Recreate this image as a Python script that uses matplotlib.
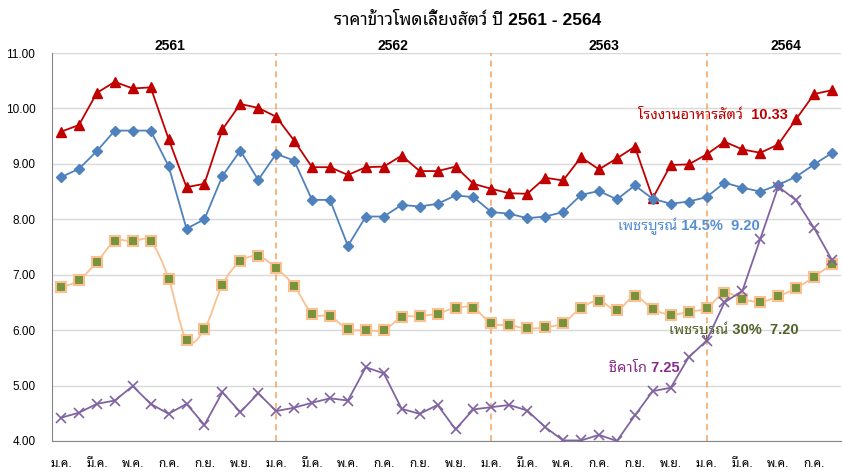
import matplotlib
matplotlib.use('Agg')
import matplotlib.pyplot as plt
from matplotlib.path import Path
from matplotlib.patches import PathPatch
import numpy as np

plt.rcParams['font.family'] = ['Liberation Sans', 'Noto Sans Thai Looped']

# monthly prices, Jan 2561 .. Aug 2564 (baht/kg)
years = ['2561', '2562', '2563', '2564']
month_labels = ['ม.ค.', 'มี.ค.', 'พ.ค.', 'ก.ค.', 'ก.ย.', 'พ.ย.']

feed_mill = [9.58, 9.70, 10.28, 10.48, 10.36, 10.38, 9.45, 8.58, 8.64, 9.62, 10.08, 10.01,
             9.85, 9.42, 8.94, 8.94, 8.80, 8.94, 8.95, 9.15, 8.87, 8.87, 8.95, 8.64,
             8.55, 8.47, 8.46, 8.75, 8.70, 9.12, 8.90, 9.10, 9.31, 8.38, 8.98, 8.99,
             9.17, 9.40, 9.26, 9.20, 9.35, 9.81, 10.26, 10.33]
petchabun_145 = [8.76, 8.91, 9.23, 9.60, 9.60, 9.60, 8.96, 7.83, 8.00, 8.78, 9.24, 8.71,
                 9.18, 9.06, 8.35, 8.35, 7.52, 8.05, 8.05, 8.26, 8.23, 8.28, 8.43, 8.40,
                 8.13, 8.10, 8.02, 8.05, 8.13, 8.44, 8.51, 8.36, 8.61, 8.37, 8.28, 8.32,
                 8.40, 8.66, 8.57, 8.50, 8.62, 8.77, 8.99, 9.20]
petchabun_30 = [6.77, 6.90, 7.23, 7.60, 7.60, 7.60, 6.93, 5.82, 6.02, 6.82, 7.24, 7.33,
                7.12, 6.80, 6.30, 6.25, 6.02, 6.00, 6.00, 6.23, 6.25, 6.30, 6.40, 6.40,
                6.12, 6.09, 6.03, 6.05, 6.13, 6.40, 6.53, 6.36, 6.61, 6.38, 6.28, 6.33,
                6.40, 6.67, 6.56, 6.51, 6.61, 6.76, 6.96, 7.20]
chicago = [4.42, 4.51, 4.67, 4.73, 4.99, 4.67, 4.49, 4.67, 4.29, 4.88, 4.52, 4.86,
           4.54, 4.60, 4.69, 4.77, 4.73, 5.33, 5.22, 4.58, 4.49, 4.65, 4.21, 4.57,
           4.61, 4.65, 4.55, 4.25, 4.01, 4.01, 4.11, 4.00, 4.46, 4.90, 4.96, 5.51,
           5.81, 6.50, 6.71, 7.65, 8.59, 8.34, 7.84, 7.26]

n = len(feed_mill)
x = np.arange(n)

fig = plt.figure(figsize=(8.43, 4.75), dpi=100)
ax = fig.add_axes([0.0617, 0.0716, 0.936, 0.8168])

# smoothed line (Excel style) for Petchabun 30%
def smooth_path(xs, ys):
    pts = np.column_stack([xs, ys])
    verts = [pts[0]]
    codes = [Path.MOVETO]
    for i in range(len(pts) - 1):
        p0 = pts[i - 1] if i > 0 else pts[i]
        p1 = pts[i]
        p2 = pts[i + 1]
        p3 = pts[i + 2] if i + 2 < len(pts) else pts[i + 1]
        verts += [p1 + (p2 - p0) / 6, p2 - (p3 - p1) / 6, p2]
        codes += [Path.CURVE4] * 3
    return Path(verts, codes)

ax.add_patch(PathPatch(smooth_path(x, petchabun_30), fill=False, edgecolor='#fac08f', lw=1.3, zorder=2))
ax.plot(x, petchabun_30, ls='none', marker='s', ms=6.5, mfc='#77933c', mec='#fac08f', mew=1.5, zorder=3)

ax.plot(x, feed_mill, color='#c00000', lw=1.3, marker='^', ms=7.5, zorder=4)
ax.plot(x, petchabun_145, color='#4f81bd', lw=1.3, marker='D', ms=5.5, zorder=4)
ax.plot(x, chicago, color='#8064a2', lw=1.3, marker='x', ms=7, mew=1.2, zorder=4)

# year separators
for i in (12, 24, 36):
    ax.axvline(i, color='#f4a460', lw=1.1, ls=(0, (4, 3)), zorder=1)

ax.set_xlim(-0.5, n - 0.5)
ax.set_ylim(4, 11)
ax.set_yticks(np.arange(4, 11.01, 1))
ax.set_yticklabels(['%.2f' % v for v in np.arange(4, 11.01, 1)], fontsize=8.5)
ax.set_xticks(np.arange(0, n, 2))
ax.set_xticklabels([month_labels[(i // 2) % 6] for i in range(0, n, 2)], fontsize=8.5)
ax.tick_params(axis='x', length=0, pad=12)
ax.tick_params(axis='y', length=0, pad=12)
ax.grid(axis='y', color='#d9d9d9', lw=1)
ax.set_axisbelow(True)
for s in ('top', 'right'):
    ax.spines[s].set_visible(False)
ax.spines['left'].set_color('#868686')
ax.spines['bottom'].set_color('#868686')

for xi, yr in zip([6.1, 18.5, 30.3, 40.4], years):
    ax.text(xi, 1.018, yr, transform=ax.get_xaxis_transform(), ha='center', va='center',
            fontsize=10, fontweight='bold', clip_on=False)

ax.text(32.2, 9.88, 'โรงงานอาหารสัตว์  10.33', color='#c00000', fontsize=10.5, fontweight='bold', va='center')
ax.text(31.05, 7.88, 'เพชรบูรณ์ 14.5%  9.20', color='#558ed5', fontsize=10.5, fontweight='bold', va='center')
ax.text(33.9, 6.00, 'เพชรบูรณ์ 30%  7.20', color='#4f6228', fontsize=10.5, fontweight='bold', va='center')
ax.text(30.55, 5.32, 'ชิคาโก 7.25', color='#862a8c', fontsize=10.5, fontweight='bold', va='center')

fig.text(0.555, 0.958, 'ราคาข้าวโพดเลี้ยงสัตว์ ปี 2561 - 2564', ha='center', va='center',
         fontsize=12.5, fontweight='bold')

fig.savefig('out.png', dpi=100)
